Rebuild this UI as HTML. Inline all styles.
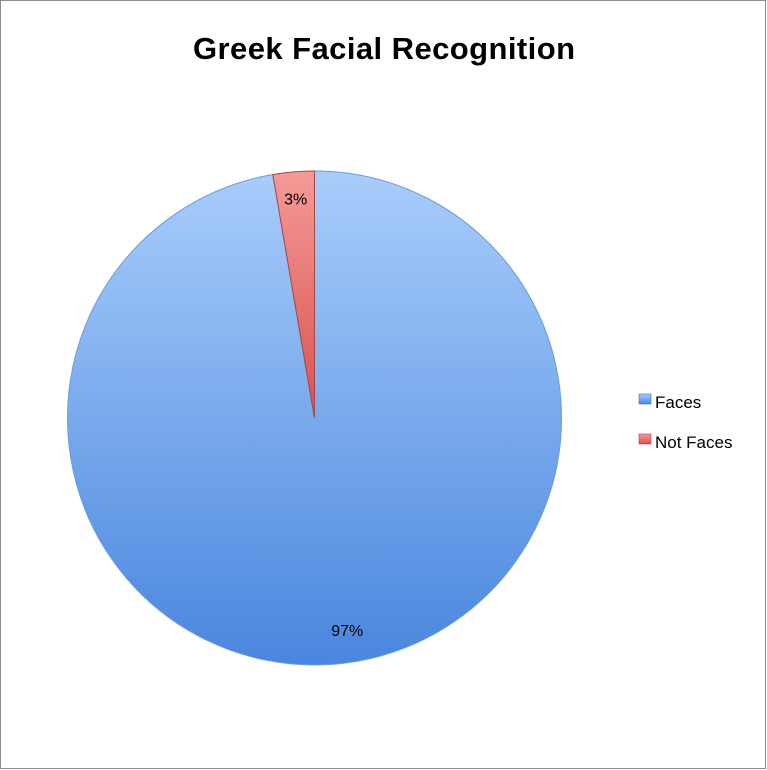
<!DOCTYPE html>
<html><head><meta charset="utf-8"><style>
body{margin:0;background:#fff;}
svg{display:block;font-family:"Liberation Sans",sans-serif;}
</style></head><body>
<svg id="chart" width="767" height="770">
<defs>
<linearGradient id="gBlue" x1="0" y1="0" x2="0" y2="1">
<stop offset="0" stop-color="#a9cdfb"/><stop offset="1" stop-color="#4a86de"/></linearGradient>
<linearGradient id="gRed" x1="0" y1="0" x2="0" y2="1">
<stop offset="0" stop-color="#f59a98"/><stop offset="1" stop-color="#d9514e"/></linearGradient>
</defs>
<rect x="0.5" y="0.5" width="765" height="768" fill="#fff" stroke="#8c8c8c"/>
<text x="384" y="59" text-anchor="middle" font-size="31" font-weight="bold" fill="#000" textLength="382">Greek Facial Recognition</text>
<g id="slices"></g>
<g>
<rect x="639" y="394" width="12" height="10" fill="url(#gBlue)" stroke="#3b6fb8" stroke-width="0.6"/>
<text x="655" y="408" font-size="17">Faces</text>
<rect x="639" y="434" width="12" height="10" fill="url(#gRed)" stroke="#b84040" stroke-width="0.6"/>
<text x="655" y="448" font-size="17">Not Faces</text>
</g>
</svg>
<script>
const categories = ["Faces", "Not Faces"];
const values = [97.3, 2.7];
const labels = ["97%", "3%"];
const fills = ["url(#gBlue)", "url(#gRed)"];
const strokes = ["#6a9be0", "#a84644"];
const cx = 314.5, cy = 418, r = 247;
const g = document.getElementById('slices');
const ns = "http://www.w3.org/2000/svg";
const total = values.reduce((a,b)=>a+b,0);
let a0 = 0;
function pt(a, rr){ return [cx + rr*Math.sin(a), cy - rr*Math.cos(a)]; }
values.forEach((v,i)=>{
  const a1 = a0 + v/total*2*Math.PI;
  const p0 = pt(a0,r), p1 = pt(a1,r);
  const large = (a1-a0) > Math.PI ? 1 : 0;
  const path = document.createElementNS(ns,'path');
  path.setAttribute('d', `M${cx},${cy} L${p0[0]},${p0[1]} A${r},${r} 0 ${large} 1 ${p1[0]},${p1[1]} Z`);
  path.setAttribute('fill', fills[i]);
  path.setAttribute('stroke', strokes[i]);
  path.setAttribute('stroke-width', '1');
  
  
  g.appendChild(path);
  let mid = (a0+a1)/2;
  const big = v/total >= 0.5;
  if (big) mid -= 0.07;
  const lr = big ? r*0.86 : r*0.9;
  const lp = pt(mid, lr);
  const t = document.createElementNS(ns,'text');
  t.setAttribute('x', lp[0]);
  t.setAttribute('y', lp[1]+8);
  t.setAttribute('text-anchor','middle');
  t.setAttribute('font-size','16');
  t.textContent = labels[i];
  
  
  g.appendChild(t);
  a0 = a1;
});
</script>
</body></html>
